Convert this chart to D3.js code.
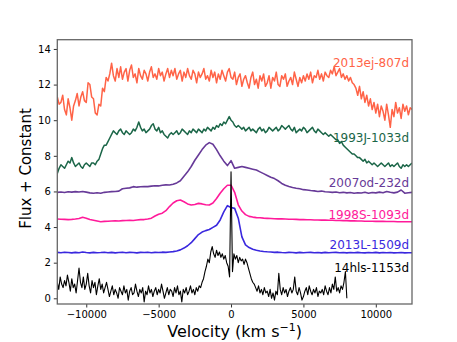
<!DOCTYPE html>
<html><head><meta charset="utf-8">
<script src="https://cdn.jsdelivr.net/npm/d3@7"></script>
<style>body{margin:0;background:#fff;} svg{display:block;font-family:"DejaVu Sans",sans-serif;}</style>
</head><body><svg id="c" width="457" height="342"></svg>
<script>
// ---- data ----  (uniform velocity grids, km/s)
const velStart = -12000;
const stepFine = 125, stepCoarse = 250, stepHls = 100;
const sn2013ej = [11.3,10.9,11.0,11.4,10.6,10.3,11.2,10.7,10.0,10.8,11.1,11.5,10.8,11.3,11.6,11.1,11.0,12.1,12.0,11.3,11.2,10.4,10.3,10.9,10.8,11.8,11.6,12.4,12.2,
 12.6,13.2,12.5,12.2,12.9,12.4,13.0,12.3,12.7,12.9,12.2,12.8,13.1,12.4,12.6,12.1,12.9,12.5,12.3,12.8,12.6,12.2,12.7,13.0,12.4,12.6,12.3,12.9,12.5,12.7,12.2,12.6,12.9,12.4,12.8,12.5,
 12.9,12.3,12.6,12.8,12.2,12.7,12.4,12.9,12.5,12.3,12.8,12.6,12.1,12.7,12.4,12.6,12.9,12.3,12.5,12.2,12.8,12.4,12.7,12.1,12.6,12.3,12.8,12.5,12.2,12.7,12.9,12.4,
 12.3,12.7,12.0,12.4,12.6,11.9,12.3,12.5,12.1,11.8,12.4,12.7,12.0,12.3,11.8,12.5,12.2,12.6,11.9,12.1,12.5,11.8,12.4,12.2,12.7,12.0,11.9,12.5,12.3,12.6,11.9,12.2,12.4,12.0,12.7,12.3,11.9,12.4,12.1,12.5,
 12.2,12.6,12.3,12.7,12.1,12.5,12.4,12.8,12.3,12.6,12.2,12.7,12.5,12.4,12.8,12.6,13.0,12.5,12.7,12.9,12.4,12.6,12.3,12.5,12.2,12.4,12.1,12.0,
 11.8,11.4,11.9,11.2,11.6,11.0,11.4,10.8,11.2,10.6,11.0,10.4,10.9,10.2,10.8,10.5,10.0,10.9,10.3,9.6,10.6,10.2,11.0,10.4,10.7,10.1,10.9,10.5,10.8,10.3,10.7,10.6];
const sn1993J = [7.0,7.3,7.5,7.4,7.3,7.5,7.7,7.6,7.9,7.6,7.4,7.5,7.6,7.4,7.3,7.5,7.6,7.5,7.4,7.6,7.6,7.5,7.7,7.8,8.1,
 8.4,8.6,8.6,8.8,9.0,9.2,9.4,9.3,9.2,9.4,9.5,9.3,9.2,9.4,9.3,9.2,9.3,9.5,9.4,9.6,9.9,9.6,9.4,9.5,9.3,9.4,9.5,9.7,9.8,9.5,9.4,9.6,9.3,9.4,9.2,9.1,9.0,9.2,9.3,9.2,
 9.3,9.4,9.2,9.3,9.5,9.4,9.3,9.2,9.4,9.3,9.5,9.4,9.3,9.5,9.4,9.3,9.5,9.4,9.6,9.5,9.4,9.6,9.5,9.7,9.6,9.8,9.7,9.9,9.8,10.0,10.2,10.0,
 9.9,9.7,9.6,9.7,9.6,9.5,9.6,9.4,9.5,9.6,9.4,9.5,9.4,9.3,9.5,9.6,9.4,9.5,9.3,9.4,9.6,9.5,9.4,9.5,9.6,9.4,9.5,9.7,9.6,9.5,9.6,9.7,9.5,9.4,9.6,9.3,9.4,9.5,9.4,9.6,9.5,9.3,9.4,9.5,9.6,9.4,9.3,9.5,9.4,9.3,9.2,9.3,9.2,9.1,9.2,9.1,
 9.0,8.9,8.9,8.7,8.8,8.6,8.5,8.4,8.3,8.2,8.1,8.1,8.0,7.9,7.9,7.8,7.7,7.8,7.6,7.7,7.6,7.5,7.6,7.5,7.4,7.5,7.6,7.5,7.4,7.5,7.6,7.4,7.5,7.4,7.5,7.6,7.4,7.3,7.5,7.4,7.5,7.4,7.5,7.6];
const sn2007od = [5.95,5.97,5.94,5.98,5.96,5.99,5.97,6.0,5.96,5.92,5.9,5.93,5.9,5.95,5.97,5.99,6.0,6.02,6.15,6.18,6.2,6.27,6.24,6.26,6.28,6.27,6.3,6.32,6.31,6.35,6.37,6.36,6.4,6.48,6.6,6.85,7.1,7.4,7.75,8.05,8.35,8.6,8.74,8.65,8.35,8.0,7.7,7.45,
 7.73,7.3,7.35,7.4,7.35,7.3,7.25,7.2,7.1,7.0,6.9,6.8,6.72,6.6,6.45,6.35,6.28,6.22,6.18,6.15,6.1,6.08,6.05,6.03,6.0,6.02,5.98,5.97,5.95,5.97,5.93,5.95,5.92,5.94,5.9,5.93,5.91,5.95,5.9,5.94,5.92,5.96,5.93,6.0,5.95,5.92,5.96,6.08,5.9,5.93,5.95];
const sn1998S = [4.45,4.44,4.43,4.42,4.43,4.45,4.48,4.55,4.5,4.42,4.38,4.34,4.3,4.32,4.33,4.34,4.35,4.34,4.36,4.37,4.38,4.37,4.4,4.42,4.42,4.45,4.5,4.62,4.72,4.78,4.92,5.15,5.35,5.48,5.52,5.42,5.3,5.24,5.27,5.33,5.3,5.25,5.24,5.35,5.6,5.9,6.15,6.35,
 6.35,5.95,5.25,4.9,4.7,4.6,4.56,4.53,4.52,4.5,4.49,4.48,4.47,4.46,4.46,4.45,4.44,4.44,4.43,4.42,4.42,4.41,4.41,4.4,4.4,4.39,4.39,4.38,4.38,4.37,4.37,4.36,4.36,4.35,4.35,4.34,4.34,4.33,4.33,4.33,4.32,4.32,4.32,4.31,4.31,4.31,4.3,4.3,4.3,4.3,4.3];
const sn2013L = [2.58,2.56,2.59,2.57,2.55,2.58,2.56,2.6,2.57,2.55,2.58,2.56,2.57,2.59,2.56,2.58,2.55,2.57,2.59,2.56,2.58,2.57,2.55,2.58,2.57,2.59,2.56,2.58,2.57,2.59,2.58,2.6,2.62,2.66,2.72,2.82,2.95,3.12,3.35,3.58,3.72,3.8,3.86,3.98,4.1,4.4,4.85,5.2,
 5.1,5.05,4.5,3.45,3.0,2.85,2.76,2.7,2.66,2.63,2.61,2.6,2.58,2.59,2.57,2.56,2.58,2.57,2.55,2.58,2.56,2.57,2.58,2.56,2.57,2.55,2.58,2.56,2.57,2.58,2.56,2.57,2.55,2.57,2.56,2.58,2.56,2.55,2.57,2.56,2.58,2.55,2.57,2.56,2.57,2.55,2.56,2.57,2.55,2.56,2.56];
const sn14hls = [0.9,0.5,1.2,0.8,0.6,1.0,0.7,1.3,0.9,0.4,1.1,0.6,0.8,0.3,1.0,1.7,0.9,0.6,1.2,0.5,0.8,1.4,0.7,0.3,1.0,0.6,0.9,0.2,0.7,1.1,0.5,0.8,0.3,0.6,0.9,
 0.5,0.1,0.4,0.7,0.2,0.5,0.3,0.0,0.6,0.4,0.2,0.7,0.3,0.5,-0.1,0.4,0.6,0.2,0.3,0.8,0.4,0.1,0.5,0.3,0.6,-0.2,0.4,0.2,0.7,0.3,0.5,0.1,0.4,0.6,0.2,0.5,0.3,0.8,0.4,0.0,0.3,0.6,0.2,0.5,0.4,0.1,0.6,0.3,0.7,0.2,0.4,-0.2,0.5,0.3,0.6,0.2,0.4,0.7,0.3,0.5,0.2,0.6,0.4,0.7,
 0.6,0.9,1.1,1.5,1.8,2.2,2.0,2.6,2.9,2.5,2.3,2.7,2.4,2.6,2.3,2.5,2.2,2.4,2.0,1.8,
 1.2,7.1,1.5,
 2.5,2.2,2.4,2.0,2.3,2.1,2.2,1.9,2.2,2.0,1.7,1.4,1.1,0.9,0.8,
 0.6,0.4,0.7,0.3,0.5,0.2,0.6,0.3,0.4,0.1,0.5,0.0,0.3,-0.1,0.4,0.2,1.4,0.5,0.2,0.6,0.3,0.5,0.1,0.4,0.6,0.3,0.5,1.2,0.4,0.2,0.6,0.3,-0.1,0.1,0.4,0.6,0.2,0.7,0.4,0.2,0.5,0.3,0.6,0.1,0.4,0.3,0.5,0.2,0.7,0.4,0.2,0.6,0.3,0.8,0.5,1.2,0.4,0.6,0.3,0.7,0.5,0.9,1.5,0.0];
const seriesNames = ["2013ej-807d","1993J-1033d","2007od-232d","1998S-1093d","2013L-1509d","14hls-1153d"];
const xTicks = [-10000,-5000,0,5000,10000];
const yTicks = [0,2,4,6,8,10,12,14];

// ---- drawing ----
const m={l:57.3,r:412,t:39.7,b:304};
const svg=d3.select("#c");
const x=d3.scaleLinear().domain([-12000,12500]).range([m.l,m.r]);
const y=d3.scaleLinear().domain([-0.32,14.52]).range([m.b,m.t]);
const grid = (arr,step) => arr.map((f,i)=>[velStart+i*step,f]);
const series=[
 {name:seriesNames[0],pts:grid(sn2013ej,stepFine),color:"#ff6347",w:1.5,ly:13.0},
 {name:seriesNames[1],pts:grid(sn1993J,stepFine),color:"#1b6648",w:1.5,ly:8.78},
 {name:seriesNames[2],pts:grid(sn2007od,stepCoarse),color:"#673a98",w:1.6,ly:6.25},
 {name:seriesNames[3],pts:grid(sn1998S,stepCoarse),color:"#ff1a9a",w:1.6,ly:4.48},
 {name:seriesNames[4],pts:grid(sn2013L,stepCoarse),color:"#3a28de",w:1.6,ly:2.77},
 {name:seriesNames[5],pts:grid(sn14hls,stepHls),color:"#000000",w:1.1,ly:1.5}
];
svg.append("defs").append("clipPath").attr("id","clip").append("rect")
 .attr("x",m.l).attr("y",m.t).attr("width",m.r-m.l).attr("height",m.b-m.t);
const line=d3.line().x(d=>x(d[0])).y(d=>y(d[1]));
const g=svg.append("g").attr("clip-path","url(#clip)");
series.forEach(s=>{
 g.append("path").attr("d",line(s.pts)).attr("fill","none").attr("stroke",s.color)
  .attr("stroke-width",s.w).attr("stroke-linejoin","round");
});
series.forEach(s=>{
 svg.append("text").attr("x",x(12300)).attr("y",y(s.ly)).attr("text-anchor","end")
  .attr("font-size",12).attr("fill",s.color).text(s.name);
});
const fmt=d=>d<0?"\u2212"+Math.abs(d):String(d);
const xa=svg.append("g").attr("transform",`translate(0,${m.b})`)
 .call(d3.axisBottom(x).tickValues(xTicks).tickFormat(fmt).tickSize(3.5).tickPadding(3));
const ya=svg.append("g").attr("transform",`translate(${m.l},0)`)
 .call(d3.axisLeft(y).tickValues(yTicks).tickFormat(fmt).tickSize(3.5).tickPadding(3));
[xa,ya].forEach(a=>{a.select(".domain").remove();a.selectAll("text").attr("font-size",10).attr("fill","#000").attr("font-family","DejaVu Sans");a.selectAll("line").attr("stroke","#333");});
svg.append("rect").attr("x",m.l).attr("y",m.t).attr("width",m.r-m.l).attr("height",m.b-m.t)
 .attr("fill","none").attr("stroke","#666").attr("stroke-width",1.3);
const xl=svg.append("text").attr("x",(m.l+m.r)/2).attr("y",337).attr("text-anchor","middle").attr("font-size",16);
xl.append("tspan").text("Velocity (km s");
xl.append("tspan").attr("dy",-6.5).attr("font-size",11).text("\u22121");
xl.append("tspan").attr("dy",6.5).text(")");
svg.append("text").attr("transform",`translate(31,168.5) rotate(-90)`).attr("text-anchor","middle")
 .attr("font-size",15).text("Flux + Constant");
</script></body></html>
